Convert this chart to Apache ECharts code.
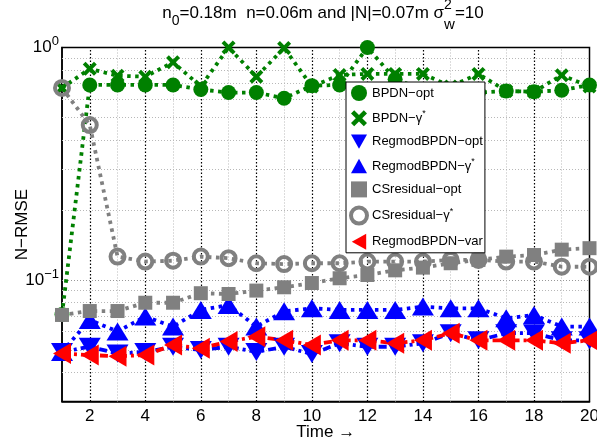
<!DOCTYPE html>
<html><head><meta charset="utf-8">
<script src="https://cdn.jsdelivr.net/npm/echarts@6/dist/echarts.min.js"></script>
<style>html,body{margin:0;padding:0;background:#fff}#c{width:597px;height:442px}</style>
</head><body><div id="c"></div>
<script>
// ---- data ----
const timeSteps = [1,2,3,4,5,6,7,8,9,10,11,12,13,14,15,16,17,18,19,20];
const bpdnOpt      = [0.071,0.69,0.69,0.69,0.69,0.66,0.64,0.64,0.605,0.685,0.69,1.0,0.73,0.66,0.64,0.64,0.65,0.645,0.655,0.69];
const bpdnGamma    = [0.67,0.81,0.756,0.749,0.864,0.68,1.0,0.749,0.995,0.68,0.762,0.77,0.77,0.77,0.68,0.77,0.65,0.645,0.76,0.68];
const regmodOpt    = [0.049,0.0516,0.0483,0.049,0.0516,0.05,0.0516,0.049,0.0516,0.048,0.0534,0.0516,0.0516,0.0534,0.059,0.055,0.059,0.059,0.055,0.055];
const regmodGamma  = [0.049,0.0673,0.06,0.0696,0.063,0.0743,0.078,0.063,0.0733,0.0755,0.0743,0.0743,0.0743,0.0768,0.0755,0.0755,0.0684,0.0707,0.063,0.063];
const csOpt        = [0.0707,0.0735,0.0735,0.0798,0.0798,0.0877,0.087,0.09,0.093,0.097,0.1017,0.105,0.11,0.113,0.118,0.122,0.126,0.128,0.135,0.137];
const csGamma      = [0.67,0.464,0.126,0.12,0.121,0.126,0.124,0.118,0.117,0.118,0.118,0.12,0.12,0.12,0.122,0.122,0.12,0.12,0.114,0.114];
const regmodVar    = [0.0483,0.0475,0.047,0.0475,0.0525,0.0508,0.0543,0.057,0.055,0.0525,0.055,0.055,0.0534,0.055,0.059,0.055,0.055,0.055,0.0534,0.055];
const seriesNames  = ['BPDN−opt','BPDN−γ*','RegmodBPDN−opt','RegmodBPDN−γ*','CSresidual−opt','CSresidual−γ*','RegmodBPDN−var'];
const yMajorTicks  = [0.1, 1];
const yMinorGrid   = [0.04,0.05,0.06,0.07,0.08,0.09,0.2,0.3,0.4,0.5,0.6,0.7,0.8,0.9];
const xMajorGrid   = [2,4,6,8,10,12,14,16,18];
const xMinorGrid   = [3,5,7,9,11,13,15,17,19];

const FONT = 'Liberation Sans, Arial, sans-serif';
const chart = echarts.init(document.getElementById('c'));

const xShape  = 'path://M0,2 L2,0 L5,3 L8,0 L10,2 L7,5 L10,8 L8,10 L5,7 L2,10 L0,8 L3,5 Z';
const downTri = 'path://M0,0 L10,0 L5,9 Z';
const upTri   = 'path://M5,0 L10,9 L0,9 Z';
const leftTri = 'path://M0,5 L9,0 L9,10 Z';

const DOT = [3.5, 4.5];
const DASHDOT = [8, 4, 3, 4];

function mk(name, values, color, symbol, size, lineType, itemStyle) {
  return {
    name, type: 'line', data: timeSteps.map((t, i) => [t, values[i]]),
    symbol, symbolSize: size, showSymbol: true, clip: false, z: 10,
    lineStyle: { color, width: 3.8, type: lineType, cap: 'butt' },
    itemStyle: itemStyle || { color },
    emphasis: { disabled: true }
  };
}

// title built from pieces (sub/superscripts)
function titleGraphics() {
  const ctx = document.createElement('canvas').getContext('2d');
  const segs = [
    { t: 'n', s: 17, y: 13 },
    { t: '0', s: 14, y: 21.5 },
    { t: '=0.18m  n=0.06m and |N|=0.07m σ', s: 17, y: 13 },
    { t: '2', s: 14, y: 5, stack: 1 },
    { t: 'w', s: 15, y: 25, stack: 2 },
    { t: '=10', s: 17, y: 13 }
  ];
  let x = 0; const pos = []; let stackX = 0, stackW = 0;
  segs.forEach(sg => {
    ctx.font = sg.s + 'px ' + FONT;
    const w = ctx.measureText(sg.t).width;
    if (sg.stack === 1) { stackX = x; stackW = w; pos.push(x); }
    else if (sg.stack === 2) { pos.push(stackX); x = stackX + Math.max(stackW, w); }
    else { pos.push(x); x += w; }
  });
  const start = 323 - x / 2;
  return segs.map((sg, i) => ({
    type: 'text', x: start + pos[i], y: sg.y, silent: true,
    style: { text: sg.t, font: sg.s + 'px ' + FONT, fill: '#000', align: 'left', verticalAlign: 'middle' }
  }));
}

const gridSeries = {
  type: 'line', name: '_grid', data: [], silent: true, z: 1,
  markLine: {
    silent: true, symbol: ['none', 'none'], label: { show: false }, animation: false, z: 1,
    emphasis: { disabled: true },
    data: [
      ...yMinorGrid.map(v => ({ yAxis: v, lineStyle: { color: '#b8b8b8', width: 1, type: [1, 2] } })),
      { yAxis: 0.1, lineStyle: { color: '#999', width: 1, type: [1, 2] } },
      ...xMinorGrid.map(v => ({ xAxis: v, lineStyle: { color: '#b8b8b8', width: 1, type: [1, 2] } })),
      ...xMajorGrid.map(v => ({ xAxis: v, lineStyle: { color: '#000', width: 1.2, type: [1.5, 2] } }))
    ]
  }
};

const option = {
  animation: false,
  backgroundColor: '#fff',
  grid: { left: 62, right: 7.5, top: 47.5, bottom: 40.5, containLabel: false, outerBoundsMode: 'none',
          show: true, borderColor: '#000', borderWidth: 1.5, backgroundColor: 'transparent' },
  graphic: titleGraphics(),
  xAxis: {
    type: 'value', min: 1, max: 20, interval: 1,
    axisLine: { lineStyle: { color: '#000', width: 1.5 } },
    axisTick: { show: false }, splitLine: { show: false },
    axisLabel: { formatter: v => (v % 2 === 0 ? String(v) : ''), fontSize: 17, color: '#000', fontFamily: FONT, margin: 6, hideOverlap: false },
    name: 'Time →', nameLocation: 'middle', nameGap: 22, nameMoveOverlap: false,
    nameTextStyle: { fontSize: 17, color: '#000', fontFamily: FONT }
  },
  yAxis: {
    type: 'log', logBase: 10, min: 0.03, max: 1,
    axisLine: { lineStyle: { color: '#000', width: 1.5 } },
    axisTick: { show: false }, splitLine: { show: false },
    axisLabel: {
      margin: 3, color: '#000',
      formatter: v => {
        const e = Math.log10(v);
        if (Math.abs(e - Math.round(e)) > 1e-6) return '';
        if (!yMajorTicks.some(t => Math.abs(Math.log10(t) - e) < 1e-6)) return '';
        const r = Math.round(e);
        return '{b|10}{s|' + (r < 0 ? '−' + (-r) : r) + '}';
      },
      rich: {
        b: { fontSize: 17, fontFamily: FONT, color: '#000' },
        s: { fontSize: 13, fontFamily: FONT, color: '#000', padding: [0, 0, 12, 0] }
      }
    },
    name: 'N−RMSE', nameLocation: 'middle', nameGap: 31, nameRotate: 90, nameMoveOverlap: false,
    nameTextStyle: { fontSize: 17, color: '#000', fontFamily: FONT }
  },
  legend: {
    orient: 'vertical', left: 346, top: 82, z: 20,
    itemWidth: 16, itemHeight: 16, itemGap: 8.2,
    padding: [3, 2, 3, 3],
    backgroundColor: '#fff', borderColor: '#000', borderWidth: 1, borderRadius: 0,
    selectedMode: false,
    formatter: n => (n.endsWith('*') ? n.slice(0, -1) + '{sup|*}' : n),
    textStyle: {
      fontSize: 13, fontFamily: FONT, color: '#000',
      rich: { sup: { fontSize: 9, fontFamily: FONT, color: '#000', padding: [0, 0, 9, 0] } }
    },
    data: [
      { name: seriesNames[0], icon: 'circle' },
      { name: seriesNames[1], icon: xShape },
      { name: seriesNames[2], icon: downTri },
      { name: seriesNames[3], icon: upTri },
      { name: seriesNames[4], icon: 'rect', itemStyle: { borderWidth: 0 } },
      { name: seriesNames[5], icon: 'circle', itemStyle: { color: 'rgba(255,255,255,0)', borderColor: '#808080', borderWidth: 4 } },
      { name: seriesNames[6], icon: leftTri }
    ]
  },
  series: [
    gridSeries,
    mk(seriesNames[0], bpdnOpt, '#008000', 'circle', 15, DOT),
    mk(seriesNames[1], bpdnGamma, '#008000', xShape, 14, DOT),
    mk(seriesNames[2], regmodOpt, '#0000ff', downTri, [22, 18], DASHDOT),
    mk(seriesNames[3], regmodGamma, '#0000ff', upTri, [22, 18], DOT),
    mk(seriesNames[4], csOpt, '#808080', 'rect', 14, DOT),
    mk(seriesNames[5], csGamma, '#808080', 'circle', 14, DOT, { color: 'rgba(255,255,255,0)', borderColor: '#808080', borderWidth: 4 }),
    mk(seriesNames[6], regmodVar, '#ff0000', leftTri, [18, 21], DASHDOT)
  ]
};
chart.setOption(option);
</script></body></html>
